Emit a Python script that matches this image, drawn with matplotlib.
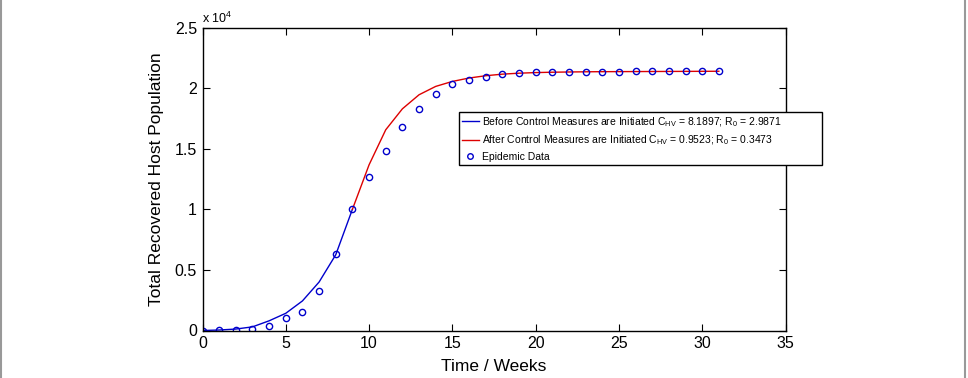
import matplotlib
matplotlib.use("Agg")
import matplotlib.pyplot as plt
from matplotlib.lines import Line2D
from matplotlib.patches import Rectangle

plt.rcParams['font.family'] = ['Liberation Sans', 'DejaVu Sans']
plt.rcParams['mathtext.fontset'] = 'custom'
plt.rcParams['mathtext.rm'] = 'Liberation Sans'

weeks = list(range(0, 32))
epidemic_data = [0, 20, 30, 100, 400, 1050, 1550, 3250, 6350, 10000, 12700,
                 14800, 16750, 18250, 19550, 20300, 20650, 20920, 21130, 21250,
                 21290, 21320, 21330, 21340, 21350, 21360, 21370, 21370, 21380,
                 21380, 21390, 21390]

before_weeks = list(range(0, 10))
before_model = [0, 40, 120, 300, 800, 1420, 2440, 4000, 6250, 10000]

after_weeks = list(range(9, 32))
after_model = [10000, 13670, 16560, 18290, 19450, 20140, 20550, 20830, 21020,
               21150, 21230, 21280, 21310, 21330, 21345, 21355, 21360, 21365,
               21370, 21375, 21380, 21385, 21390]

x_ticks = [0, 5, 10, 15, 20, 25, 30, 35]
y_ticks = [0, 5000, 10000, 15000, 20000, 25000]
y_tick_labels = ['0', '0.5', '1', '1.5', '2', '2.5']

fig = plt.figure(figsize=(9.68, 3.78), dpi=100)
ax = fig.add_axes([202.5/968, 1-330.5/378, (785.5-202.5)/968, (330.5-27.5)/378])

ax.plot(before_weeks, before_model, color='#0000cc', lw=1.0)
ax.plot(after_weeks, after_model, color='#dd0000', lw=1.0)
ax.plot(weeks, epidemic_data, linestyle='none', marker='o', markersize=4.5,
        markerfacecolor='none', markeredgecolor='#0000cc', markeredgewidth=1.0)

ax.set_xlim(0, 35)
ax.set_ylim(0, 25000)
ax.set_xticks(x_ticks)
ax.set_xticklabels([str(t) for t in x_ticks])
ax.set_yticks(y_ticks)
ax.set_yticklabels(y_tick_labels)
ax.tick_params(direction='in', length=5, width=0.8, top=True, right=True,
               labelsize=11.5, pad=4, colors='black')
for s in ax.spines.values():
    s.set_linewidth(1.0)

ax.set_xlabel('Time / Weeks', fontsize=12.5, labelpad=6)
ax.set_ylabel('Total Recovered Host Population', fontsize=12.5, labelpad=8)
ax.text(0.0, 1.005, r'x 10$^4$', transform=ax.transAxes, fontsize=9,
        ha='left', va='bottom')

handles = [Line2D([], [], color='#0000cc', lw=1.0),
           Line2D([], [], color='#dd0000', lw=1.0),
           Line2D([], [], linestyle='none', marker='o', markersize=4,
                  markerfacecolor='none', markeredgecolor='#0000cc')]
labels = [r'Before Control Measures are Initiated C$_{\mathrm{HV}}$ = 8.1897; R$_0$ = 2.9871',
          r'After Control Measures are Initiated C$_{\mathrm{HV}}$ = 0.9523; R$_0$ = 0.3473',
          'Epidemic Data']
leg = fig.legend(handles, labels, loc='upper left',
                 bbox_to_anchor=(459/968, 1-112/378), fontsize=7.5,
                 frameon=False,
                 handlelength=1.6, handletextpad=0.3, borderpad=0.3,
                 labelspacing=0.45, borderaxespad=0)
leg.set_zorder(5)
fig.add_artist(Rectangle((459/968, 1-165/378), (822-459)/968, (165-112)/378,
                         transform=fig.transFigure, facecolor='white',
                         edgecolor='black', lw=1.0, zorder=4))

fig.add_artist(Line2D([0.5/968, 0.5/968], [0, 1], color='#999999', lw=1.5,
                      transform=fig.transFigure))
fig.add_artist(Line2D([965/968, 965/968], [0, 1], color='#999999', lw=1.5,
                      transform=fig.transFigure))

fig.savefig('out.png', dpi=100)
